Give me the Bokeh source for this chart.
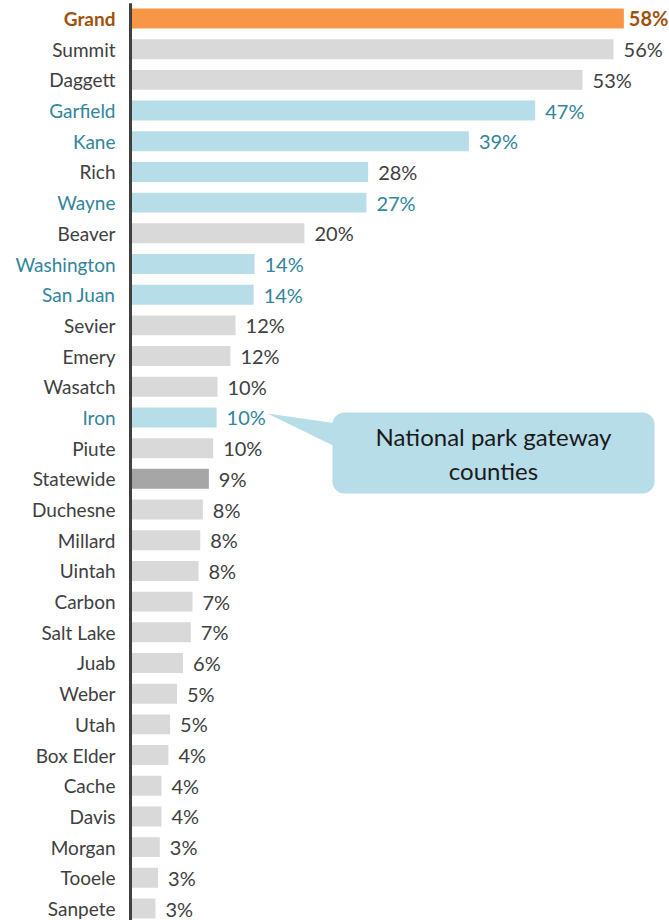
from bokeh.plotting import figure
from bokeh.models import ColumnDataSource, Range1d, BoxAnnotation
from bokeh.core.properties import value
from bokeh.embed import file_html
from bokeh.resources import INLINE

counties = ["Grand", "Summit", "Daggett", "Garfield", "Kane", "Rich", "Wayne", "Beaver",
            "Washington", "San Juan", "Sevier", "Emery", "Wasatch", "Iron", "Piute",
            "Statewide", "Duchesne", "Millard", "Uintah", "Carbon", "Salt Lake", "Juab",
            "Weber", "Utah", "Box Elder", "Cache", "Davis", "Morgan", "Tooele", "Sanpete"]
shares = [57.3, 56.1, 52.5, 47.0, 39.3, 27.6, 27.4, 20.2,
          14.4, 14.3, 12.2, 11.6, 10.1, 10.0, 9.6,
          9.1, 8.4, 8.1, 7.9, 7.2, 7.0, 6.1,
          5.4, 4.6, 4.4, 3.6, 3.6, 3.4, 3.2, 2.9]
share_labels = ["58%", "56%", "53%", "47%", "39%", "28%", "27%", "20%",
                "14%", "14%", "12%", "12%", "10%", "10%", "10%",
                "9%", "8%", "8%", "8%", "7%", "7%", "6%",
                "5%", "5%", "4%", "4%", "4%", "3%", "3%", "3%"]
bar_kind = ["grand", "other", "other", "park", "park", "park", "park", "other",
            "park", "park", "other", "other", "other", "park", "other",
            "state", "other", "other", "other", "other", "other", "other",
            "other", "other", "other", "other", "other", "other", "other", "other"]
text_kind = ["grand", "other", "other", "park", "park", "other", "park", "other",
             "park", "park", "other", "other", "other", "park", "other",
             "other", "other", "other", "other", "other", "other", "other",
             "other", "other", "other", "other", "other", "other", "other", "other"]
callout_text = "National park gateway\ncounties"

BAR_COL = {"grand": "#F79646", "park": "#B7DDE8", "other": "#D9D9D9", "state": "#A6A6A6"}
TXT_COL = {"grand": "#A0520C", "park": "#31859C", "other": "#404040"}
FONT = value("Lato")

src = ColumnDataSource(dict(
    y=list(range(len(counties))),
    v=shares,
    name=counties,
    lab=share_labels,
    bc=[BAR_COL[k] for k in bar_kind],
    tc=[TXT_COL[k] for k in text_kind],
    fs=["bold" if k == "grand" else "normal" for k in text_kind],
    off=[5 if k == "grand" else 10 for k in text_kind],
))

p = figure(width=669, height=920, output_backend="svg", toolbar_location=None,
           x_range=Range1d(-15.099, 62.60), y_range=Range1d(29.391, -0.5865),
           min_border=0, min_border_left=0, min_border_right=0,
           min_border_top=0, min_border_bottom=0)
p.axis.visible = False
p.grid.visible = False
p.outline_line_color = None
p.background_fill_color = "white"
p.border_fill_color = "white"

p.hbar(y="y", left=0, right="v", height=0.65, fill_color="bc", line_color=None, source=src)

# vertical axis line
p.segment(x0=0, y0=-0.5, x1=0, y1=29.6, line_color="#404040", line_width=3)

p.text(x=0, y="y", text="name", x_offset=-15, text_align="right", text_baseline="middle",
       text_font=FONT, text_font_size="19px", text_color="tc", text_font_style="fs", source=src)
p.text(x="v", y="y", text="lab", x_offset="off", text_align="left", text_baseline="middle",
       text_font=FONT, text_font_size="20px", text_color="tc", text_font_style="fs", source=src)

# callout pointing at Iron
iron = counties.index("Iron")
box = BoxAnnotation(left=23.46, right=60.86, top=iron - 0.16, bottom=iron + 2.48,
                    fill_color="#B7DDE8", fill_alpha=1.0, line_color=None,
                    border_radius=12, level="underlay")
p.add_layout(box)
p.patch(x=[15.9, 24.0, 24.0], y=[iron - 0.13, iron + 0.2, iron + 0.98],
        fill_color="#B7DDE8", line_color=None)
p.text(x=[(23.46 + 60.86) / 2], y=[iron + 1.18], text=[callout_text],
       text_align="center", text_baseline="middle", text_font=FONT,
       text_font_size="24px", text_color="#1A1A1A", text_line_height=1.17)

open("out.html", "w").write(file_html(p, INLINE))
